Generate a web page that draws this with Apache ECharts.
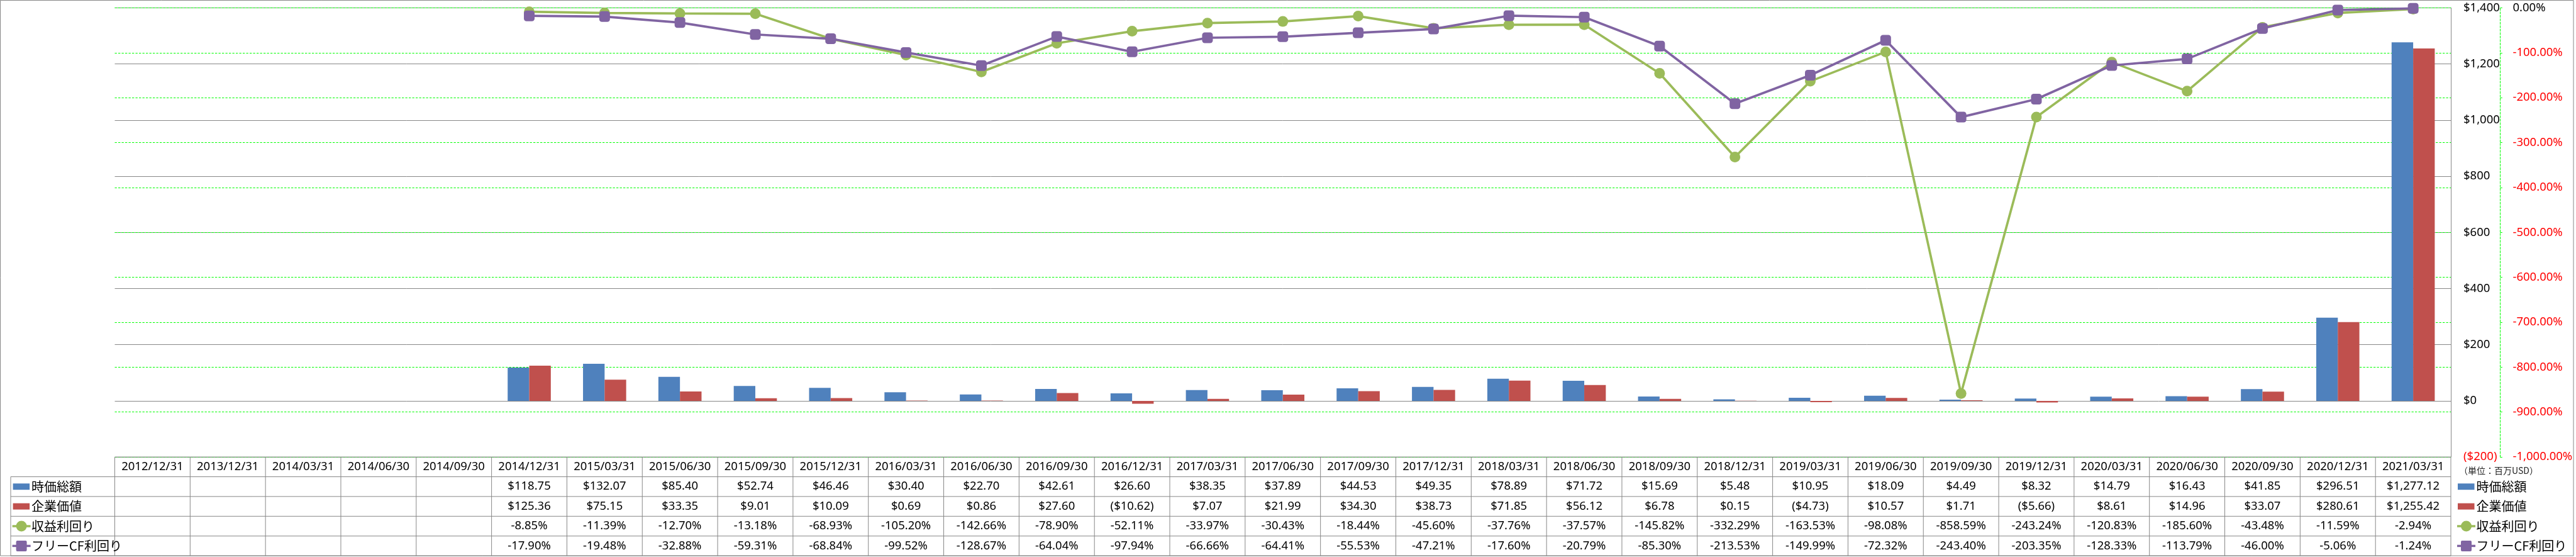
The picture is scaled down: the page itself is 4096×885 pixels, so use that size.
<!DOCTYPE html>
<html>
<head>
<meta charset="utf-8">
<script src="https://cdn.jsdelivr.net/npm/echarts@6/dist/echarts.min.js"></script>
<style>
html,body{margin:0;padding:0;background:#fff;}
#chart{width:4096px;height:885px;}
</style>
</head>
<body>
<div id="chart"></div>
<script>
const categories = ['2012/12/31','2013/12/31','2014/03/31','2014/06/30','2014/09/30','2014/12/31','2015/03/31','2015/06/30','2015/09/30','2015/12/31','2016/03/31','2016/06/30','2016/09/30','2016/12/31','2017/03/31','2017/06/30','2017/09/30','2017/12/31','2018/03/31','2018/06/30','2018/09/30','2018/12/31','2019/03/31','2019/06/30','2019/09/30','2019/12/31','2020/03/31','2020/06/30','2020/09/30','2020/12/31','2021/03/31'];
const marketCap = [null,null,null,null,null,118.75,132.07,85.40,52.74,46.46,30.40,22.70,42.61,26.60,38.35,37.89,44.53,49.35,78.89,71.72,15.69,5.48,10.95,18.09,4.49,8.32,14.79,16.43,41.85,296.51,1277.12];
const enterpriseValue = [null,null,null,null,null,125.36,75.15,33.35,9.01,10.09,0.69,0.86,27.60,-10.62,7.07,21.99,34.30,38.73,71.85,56.12,6.78,0.15,-4.73,10.57,1.71,-5.66,8.61,14.96,33.07,280.61,1255.42];
const earningsYield = [null,null,null,null,null,-8.85,-11.39,-12.70,-13.18,-68.93,-105.20,-142.66,-78.90,-52.11,-33.97,-30.43,-18.44,-45.60,-37.76,-37.57,-145.82,-332.29,-163.53,-98.08,-858.59,-243.24,-120.83,-185.60,-43.48,-11.59,-2.94];
const fcfYield = [null,null,null,null,null,-17.90,-19.48,-32.88,-59.31,-68.84,-99.52,-128.67,-64.04,-97.94,-66.66,-64.41,-55.53,-47.21,-17.60,-20.79,-85.30,-213.53,-149.99,-72.32,-243.40,-203.35,-128.33,-113.79,-46.00,-5.06,-1.24];
const seriesNames = ['時価総額','企業価値','収益利回り','フリーCF利回り'];
const unitLabel = '（単位：百万USD）';

const C_BLUE = '#4F81BD', C_RED = '#C0504D', C_GREEN = '#9BBB59', C_PURPLE = '#8064A2';
const GRAY = '#878787', LIME = '#00FF00';
const FONT = '"Noto Sans", "Noto Sans CJK JP", sans-serif';
const CJK = '"Noto Sans CJK JP", "Noto Sans", sans-serif';
const FS = 18.5, FS_CJK = 20;

function num2(v){return v.toLocaleString('en-US',{minimumFractionDigits:2,maximumFractionDigits:2});}
function money(v){ if(v==null) return ''; return v<0 ? '($'+num2(-v)+')' : '$'+num2(v); }
function pct(v){ if(v==null) return ''; return (v<0?'-':'')+num2(Math.abs(v))+'%'; }

const chart = echarts.init(document.getElementById('chart'), null, {renderer:'canvas'});
const option = {
  backgroundColor:'#fff',
  animation:false,
  grid:{left:182.5, right:199, top:12.4, bottom:158.9, containLabel:false},
  xAxis:{
    type:'category', data:categories, boundaryGap:true,
    axisLine:{show:false}, axisTick:{show:false},
    axisLabel:{interval:0, margin:15.7, verticalAlign:'middle', fontSize:FS, fontFamily:FONT, color:'#000'},
    splitLine:{show:false}
  },
  yAxis:[
    {type:'value', position:'right', min:-200, max:1400, interval:200,
     axisLine:{show:true, lineStyle:{color:GRAY, width:1}}, axisTick:{show:false},
     axisLabel:{margin:20, fontSize:FS, fontFamily:FONT, align:'left',
       formatter:v=>v<0?'($'+(-v).toLocaleString('en-US')+')':'$'+v.toLocaleString('en-US'),
       color:v=>Number(v)<0?'#FF0000':'#000'},
     splitLine:{show:true, lineStyle:{color:GRAY, width:1}}},
    {type:'value', position:'right', offset:78.5, min:-1000, max:0, interval:100,
     axisLine:{show:true, lineStyle:{color:LIME, width:1, type:[3.3,2.2]}},
     axisTick:{show:true, inside:false, length:5, lineStyle:{color:LIME, width:1, type:[3.3,2.2]}},
     axisLabel:{margin:20, fontSize:FS, fontFamily:FONT, align:'left',
       formatter:v=>pct(v), color:v=>Number(v)<0?'#FF0000':'#000'},
     splitLine:{show:true, lineStyle:{color:LIME, width:1, type:[3.3,2.2]}}}
  ],
  series:[
    {name:seriesNames[0], type:'bar', data:marketCap, yAxisIndex:0, barWidth:34.3, barGap:'0%', itemStyle:{color:C_BLUE}, z:3},
    {name:seriesNames[1], type:'bar', data:enterpriseValue, yAxisIndex:0, barWidth:34.3, barGap:'0%', itemStyle:{color:C_RED}, z:3},
    {name:seriesNames[2], type:'line', data:earningsYield, yAxisIndex:1, symbol:'circle', symbolSize:17,
     lineStyle:{color:C_GREEN, width:3.7}, itemStyle:{color:C_GREEN}, z:4},
    {name:seriesNames[3], type:'line', data:fcfYield, yAxisIndex:1, symbol:'roundRect', symbolSize:17,
     lineStyle:{color:C_PURPLE, width:3.7}, itemStyle:{color:C_PURPLE}, z:5}
  ]
};
chart.setOption(option);

// Data table and legends
const xs = categories.map((c,i)=>chart.convertToPixel({xAxisIndex:0}, i));
const cw = xs[1]-xs[0];
const tLeft = xs[0]-cw/2, tRight = xs[xs.length-1]+cw/2;
const yTop = chart.convertToPixel({yAxisIndex:0}, -200);
const rowH = 31.4;
const labX = 17;
const g = [];
const line = (x1,y1,x2,y2)=>g.push({type:'line', shape:{x1,y1,x2,y2}, style:{stroke:GRAY, lineWidth:1}, z:10, silent:true});
// outer border
g.push({type:'rect', shape:{x:0.5,y:0.5,width:4091.5,height:882.5}, style:{fill:null, stroke:GRAY, lineWidth:1}, z:10, silent:true});
line(tLeft, yTop, tRight, yTop);
for(let k=1;k<=5;k++) line(labX, yTop+rowH*k, tRight, yTop+rowH*k);
line(labX, yTop+rowH, labX, yTop+rowH*5);
for(let i=0;i<=categories.length;i++){ const x=tLeft+cw*i; line(x, yTop, x, yTop+rowH*5); }
const rows = [marketCap.map(money), enterpriseValue.map(money), earningsYield.map(pct), fcfYield.map(pct)];
rows.forEach((r,k)=>{
  const yc = yTop + rowH*(k+1.5);
  r.forEach((t,i)=>{ if(t) g.push({type:'text', x:xs[i], y:yc, style:{text:t, fill:'#000', font:FS+'px '+FONT, textAlign:'center', textVerticalAlign:'middle'}, z:11, silent:true}); });
});
// legend symbols
function legendItem(x, yc, k){
  const col = [C_BLUE,C_RED,C_GREEN,C_PURPLE][k];
  if(k<2){
    g.push({type:'rect', shape:{x:x, y:yc-5, width:26.5, height:10}, style:{fill:col}, z:11, silent:true});
    g.push({type:'text', x:x+29.5, y:yc, style:{text:seriesNames[k], fill:'#000', font:FS_CJK+'px '+CJK, textVerticalAlign:'middle'}, z:11, silent:true});
  } else {
    g.push({type:'line', shape:{x1:x-1, y1:yc, x2:x+28, y2:yc}, style:{stroke:col, lineWidth:3.5}, z:11, silent:true});
    if(k===2) g.push({type:'circle', shape:{cx:x+13.5, cy:yc, r:8.5}, style:{fill:col}, z:12, silent:true});
    else g.push({type:'rect', shape:{x:x+5, y:yc-8.5, width:17, height:17, r:2}, style:{fill:col}, z:12, silent:true});
    g.push({type:'text', x:x+29.5, y:yc, style:{text:seriesNames[k], fill:'#000', font:FS_CJK+'px '+CJK, textVerticalAlign:'middle'}, z:11, silent:true});
  }
}
for(let k=0;k<4;k++){
  const yc = yTop + rowH*(k+1.5);
  legendItem(20.6, yc, k);
  legendItem(3908, yc, k);
}
g.push({type:'text', x:3910, y:yTop+rowH*0.7, style:{text:unitLabel, fill:'#222', font:'14px '+CJK, textVerticalAlign:'middle'}, z:11, silent:true});
chart.setOption({graphic:g});
</script>
</body>
</html>
